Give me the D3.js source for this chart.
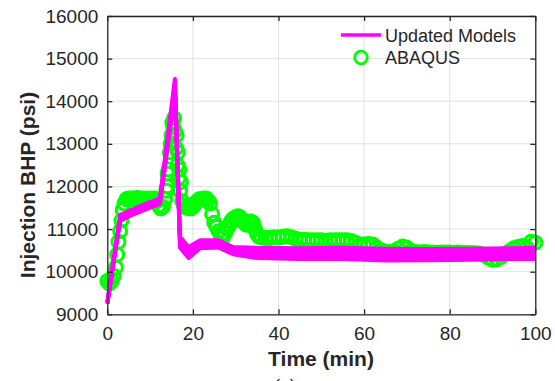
<!DOCTYPE html>
<html lang="en">
<head>
<meta charset="utf-8">
<title>Injection BHP</title>
<script src="https://cdn.jsdelivr.net/npm/d3@7"></script>
<style>
  body { margin: 0; background: #fff; }
  text { font-family: Arial, "Liberation Sans", sans-serif; fill: #262626; }
</style>
</head>
<body>
<script>
// ---- data ----
var xTicks = [0, 20, 40, 60, 80, 100];
var yTicks = [9000, 10000, 11000, 12000, 13000, 14000, 15000, 16000];

// time nodes shared by the updated-model ensemble (min)
var modelTime = [0, 3, 6, 9, 12.3, 15.8, 17.0, 19.0, 21.7, 25.9, 29.4, 35, 45, 55, 65, 75, 85, 95, 100];
var model1 = [9250, 11330, 11470, 11590, 11720, 14520, 10820, 10580, 10740, 10740, 10580, 10560, 10550, 10560, 10540, 10530, 10540, 10550, 10560];
var model2 = [9250, 11290, 11430, 11550, 11680, 14440, 10740, 10500, 10690, 10700, 10530, 10500, 10480, 10500, 10470, 10470, 10480, 10490, 10490];
var model3 = [9260, 11250, 11400, 11520, 11650, 14360, 10670, 10430, 10650, 10660, 10490, 10440, 10420, 10440, 10400, 10410, 10420, 10430, 10430];
var model4 = [9270, 11220, 11370, 11490, 11620, 14280, 10610, 10370, 10600, 10620, 10450, 10380, 10360, 10370, 10320, 10330, 10340, 10360, 10370];
var model5 = [9280, 11190, 11340, 11460, 11590, 14200, 10560, 10320, 10550, 10570, 10410, 10320, 10300, 10300, 10260, 10270, 10280, 10300, 10300];
var models = [model1, model2, model3, model4, model5];

// ABAQUS samples [time, BHP]
var abaqus = [
  [0, 9780], [0.5, 9720], [1, 9780], [1.5, 9900], [2, 10100], [2.3, 10400], [2.6, 10700], [3, 10950],
  [3.3, 11200], [3.6, 11450], [4, 11600], [4.5, 11700], [5, 11720], [5.5, 11700], [6, 11720], [6.5, 11700],
  [7, 11730], [7.5, 11700], [8, 11720], [8.5, 11700], [9, 11720], [9.5, 11700], [10, 11720], [10.5, 11700],
  [11, 11720], [11.5, 11650], [12, 11550], [12.5, 11480], [13, 11520], [13.5, 11700], [13.8, 11900], [14, 12000],
  [14.1, 12300], [14.3, 12400], [14.6, 12800], [14.8, 13000], [15, 13200], [15.2, 13500], [15.4, 13400], [15.6, 13600],
  [15.8, 13300], [16.1, 12900], [16.2, 13200], [16.4, 12500], [16.5, 12800], [16.7, 12200], [16.8, 12400], [17, 11900],
  [17.2, 12100], [17.5, 11650], [18, 11550], [18.5, 11500], [19, 11500], [19.5, 11480], [20, 11520], [20.5, 11600],
  [21, 11650], [21.5, 11700], [22, 11700], [22.5, 11720], [23, 11720], [23.5, 11680], [24, 11600], [24.5, 11350],
  [25, 11150], [25.5, 11050], [26, 10950], [26.5, 10850], [27, 10800], [27.5, 10900], [28, 11000], [28.5, 11100],
  [29, 11200], [29.5, 11250], [30, 11280], [30.5, 11300], [31, 11280], [31.5, 11200], [32, 11150], [32.5, 11100],
  [33, 11150], [33.5, 11180], [34, 11150], [34.5, 11000], [35, 10880], [35.5, 10820], [36, 10800], [37, 10790],
  [38, 10790], [39, 10810], [40, 10800], [41, 10820], [42, 10830], [43, 10810], [44, 10770], [45, 10740],
  [46, 10750], [47, 10740], [48, 10740], [49, 10740], [50, 10740], [51, 10720], [52, 10740], [53, 10740],
  [54, 10740], [55, 10740], [56, 10740], [57, 10720], [58, 10680], [59, 10620], [60, 10640], [61, 10650],
  [62, 10640], [63, 10560], [64, 10500], [65, 10470], [66, 10460], [67, 10480], [68, 10540], [69, 10590],
  [70, 10560], [71, 10480], [72, 10460], [73, 10450], [74, 10460], [75, 10450], [76, 10450], [77, 10440],
  [78, 10450], [79, 10450], [80, 10450], [81, 10440], [82, 10450], [83, 10440], [84, 10440], [85, 10440],
  [86, 10430], [87, 10420], [88, 10400], [89, 10330], [90, 10280], [91, 10290], [92, 10350], [93, 10420],
  [94, 10480], [95, 10550], [96, 10580], [97, 10600], [98, 10560], [99, 10700], [100, 10680]
];

// ---- layout ----
var W = 555, H = 381;
var x0 = 107.3, x1 = 535.3, yTop = 16, yBot = 314.3;

var svg = d3.select("body").append("svg")
    .attr("width", W)
    .attr("height", H);

var x = d3.scaleLinear().domain([0, 100]).range([x0, x1]);
var y = d3.scaleLinear().domain([9000, 16000]).range([yBot, yTop]);

// grid
var grid = svg.append("g").attr("stroke", "#e2e2e2").attr("stroke-width", 1);
grid.selectAll("line.gx").data(xTicks).enter().append("line")
    .attr("x1", d => x(d)).attr("x2", d => x(d))
    .attr("y1", yTop).attr("y2", yBot);
grid.selectAll("line.gy").data(yTicks).enter().append("line")
    .attr("x1", x0).attr("x2", x1)
    .attr("y1", d => y(d)).attr("y2", d => y(d));

// ABAQUS circles
svg.append("g")
    .selectAll("circle")
    .data(abaqus)
    .enter().append("circle")
    .attr("cx", d => x(d[0]))
    .attr("cy", d => y(d[1]))
    .attr("r", 6.5)
    .attr("fill", "none")
    .attr("stroke", "#00ff00")
    .attr("stroke-width", 3);

// updated models
var line = d3.line()
    .x((d, i) => x(modelTime[i]))
    .y(d => y(d));

svg.append("g")
    .selectAll("path")
    .data(models)
    .enter().append("path")
    .attr("d", line)
    .attr("fill", "none")
    .attr("stroke", "#ff00ff")
    .attr("stroke-width", 4)
    .attr("stroke-linejoin", "round");

// axes (box with inward ticks on all sides)
var fmt = d3.format("d");
var axB = d3.axisBottom(x).tickValues(xTicks).tickFormat(fmt).tickSizeInner(-5).tickSizeOuter(0).tickPadding(12);
var axL = d3.axisLeft(y).tickValues(yTicks).tickFormat(fmt).tickSizeInner(-5).tickSizeOuter(0).tickPadding(9);
var axT = d3.axisTop(x).tickValues(xTicks).tickSizeInner(-5).tickSizeOuter(0).tickFormat("");
var axR = d3.axisRight(y).tickValues(yTicks).tickSizeInner(-5).tickSizeOuter(0).tickFormat("");

function style(g) {
  g.selectAll("path").attr("stroke", "#262626").attr("stroke-width", 1.3);
  g.selectAll("line").attr("stroke", "#262626").attr("stroke-width", 1.3);
  g.selectAll("text").attr("font-size", "19px").attr("fill", "#262626")
    .attr("font-family", "Arial, 'Liberation Sans', sans-serif");
}

svg.append("g").attr("transform", "translate(0," + yBot + ")").call(axB).call(style);
svg.append("g").attr("transform", "translate(" + x0 + ",0)").call(axL).call(style);
svg.append("g").attr("transform", "translate(0," + yTop + ")").call(axT).call(style);
svg.append("g").attr("transform", "translate(" + x1 + ",0)").call(axR).call(style);

// axis labels
svg.append("text")
    .attr("x", 321).attr("y", 366)
    .attr("text-anchor", "middle")
    .attr("font-size", "21px").attr("font-weight", "bold")
    .text("Time (min)");

svg.append("text")
    .attr("transform", "translate(35,185) rotate(-90)")
    .attr("text-anchor", "middle")
    .attr("font-size", "21px").attr("font-weight", "bold")
    .text("Injection BHP (psi)");

// panel caption, mostly cut off at the bottom edge as in the source figure
svg.append("text")
    .attr("x", 285).attr("y", 392)
    .attr("text-anchor", "middle")
    .attr("font-size", "18px")
    .text("(a)");

// legend
var leg = svg.append("g");
leg.append("line")
    .attr("x1", 341).attr("x2", 381).attr("y1", 35).attr("y2", 35)
    .attr("stroke", "#ff00ff").attr("stroke-width", 3.5);
leg.append("text").attr("x", 385).attr("y", 41.5)
    .attr("font-size", "18px").attr("fill", "#000").text("Updated Models");
leg.append("circle")
    .attr("cx", 361).attr("cy", 57.5).attr("r", 6.3)
    .attr("fill", "none").attr("stroke", "#00ff00").attr("stroke-width", 2.8);
leg.append("text").attr("x", 385).attr("y", 64)
    .attr("font-size", "18px").attr("fill", "#000").text("ABAQUS");
</script>
</body>
</html>
